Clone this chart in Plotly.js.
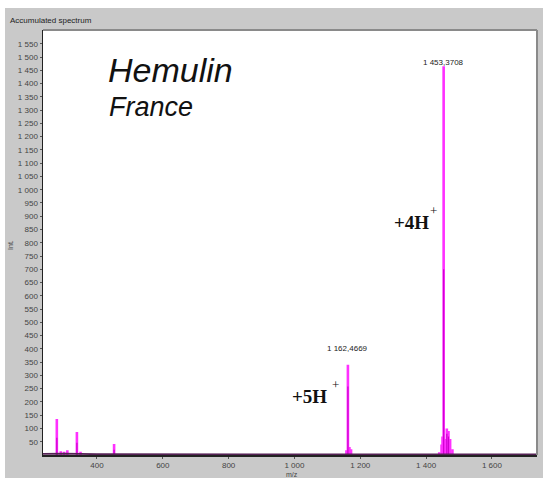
<!DOCTYPE html>
<html><head><meta charset="utf-8">
<script src="https://cdn.plot.ly/plotly-3.0.1.min.js"></script>
<style>
html,body{margin:0;padding:0;background:#ffffff;width:543px;height:478px;overflow:hidden;}
#chart{position:absolute;left:5px;top:8px;width:538px;height:470px;}
</style>
</head><body><div id="chart"></div>
<script>
// Stick peaks (m/z, intensity) – bright magenta
const peakMz  = [278, 290, 300, 310, 339, 350, 452, 1158, 1162.4669, 1167, 1172, 1440, 1447, 1450, 1453.3708, 1458, 1463, 1468, 1473, 1480];
const peakInt = [136, 14, 12, 18, 87, 12, 41, 18, 340, 30, 22, 10, 40, 70, 1465, 60, 100, 90, 60, 22];
// Darker inner part of the sticks
const darkMz  = [278, 339, 452, 1162.4669, 1453.3708, 1463, 1468];
const darkInt = [65, 46, 20, 258, 700, 80, 70];
// Baseline noise
const baseMz  = [236, 300, 400, 500, 600, 700, 800, 900, 1000, 1100, 1200, 1300, 1400, 1500, 1600, 1737];
const baseInt = [4, 5, 3, 3, 2, 2, 2, 2, 2, 3, 3, 2, 4, 3, 2, 2];
// Axis ticks
const yTickVals = [50,100,150,200,250,300,350,400,450,500,550,600,650,700,750,800,850,900,950,1000,1050,1100,1150,1200,1250,1300,1350,1400,1450,1500,1550];
const yTickText = ["50","100","150","200","250","300","350","400","450","500","550","600","650","700","750","800","850","900","950","1 000","1 050","1 100","1 150","1 200","1 250","1 300","1 350","1 400","1 450","1 500","1 550"];
const xTickVals = [400, 600, 800, 1000, 1200, 1400, 1600];
const xTickText = ["400", "600", "800", "1 000", "1 200", "1 400", "1 600"];
// Peak labels
const labelMz   = [1453.3708, 1162.4669];
const labelText = ["1 453,3708", "1 162,4669"];
const labelY    = [1478, 400];

function sticks(mz, inten) {
  const x = [], y = [];
  for (let i = 0; i < mz.length; i++) {
    x.push(mz[i], mz[i], mz[i], null);
    y.push(0, inten[i], 0, null);
  }
  return {x, y};
}
const s1 = sticks(peakMz, peakInt);
const s2 = sticks(darkMz, darkInt);

const traces = [
  {x: s1.x, y: s1.y, type: 'scatter', mode: 'lines', line: {color: '#ff30ff', width: 2.6}, connectgaps: false, hoverinfo: 'skip'},
  {x: s2.x, y: s2.y, type: 'scatter', mode: 'lines', line: {color: '#d000d0', width: 1.2}, connectgaps: false, hoverinfo: 'skip'},
  {x: baseMz, y: baseInt, type: 'scatter', mode: 'lines', line: {color: '#552255', width: 1.8}, hoverinfo: 'skip'}
];

const tickFont = {family: 'Arial, Liberation Sans, sans-serif', size: 8, color: '#444'};
const annotations = [
  {xref: 'x', yref: 'y', x: 427, y: 1451, xanchor: 'left', yanchor: 'middle', showarrow: false,
   text: '<i>Hemulin</i>', font: {family: 'Arial, Liberation Sans, sans-serif', size: 34, color: '#111'}},
  {xref: 'x', yref: 'y', x: 429, y: 1312, xanchor: 'left', yanchor: 'middle', showarrow: false,
   text: '<i>France</i>', font: {family: 'Arial, Liberation Sans, sans-serif', size: 27, color: '#111'}},
  {xref: 'x', yref: 'y', x: 1297, y: 878, xanchor: 'left', yanchor: 'middle', showarrow: false,
   text: '<b>+4H</b>', font: {family: 'Liberation Serif, Times New Roman, serif', size: 19, color: '#111'}},
  {xref: 'x', yref: 'y', x: 1424, y: 922, xanchor: 'center', yanchor: 'middle', showarrow: false,
   text: '+', font: {family: 'Liberation Serif, Times New Roman, serif', size: 13, color: '#111'}},
  {xref: 'x', yref: 'y', x: 987, y: 219, xanchor: 'left', yanchor: 'middle', showarrow: false,
   text: '<b>+5H</b>', font: {family: 'Liberation Serif, Times New Roman, serif', size: 19, color: '#111'}},
  {xref: 'x', yref: 'y', x: 1124, y: 266, xanchor: 'center', yanchor: 'middle', showarrow: false,
   text: '+', font: {family: 'Liberation Serif, Times New Roman, serif', size: 13, color: '#111'}},
  {xref: 'paper', yref: 'paper', x: -0.071, y: 1.0235, xanchor: 'left', yanchor: 'middle', showarrow: false,
   text: 'Accumulated spectrum', font: {family: 'Arial, Liberation Sans, sans-serif', size: 8, color: '#222'}},
  {xref: 'paper', yref: 'paper', x: 0.504, y: -0.045, xanchor: 'center', yanchor: 'middle', showarrow: false,
   text: 'm/z', font: {family: 'Arial, Liberation Sans, sans-serif', size: 7, color: '#444'}},
  {xref: 'paper', yref: 'paper', x: -0.067, y: 0.494, xanchor: 'center', yanchor: 'middle', showarrow: false, textangle: -90,
   text: 'Int.', font: {family: 'Arial, Liberation Sans, sans-serif', size: 7, color: '#444'}}
];
for (let i = 0; i < labelMz.length; i++) {
  annotations.push({xref: 'x', yref: 'y', x: labelMz[i], y: labelY[i], xanchor: 'center', yanchor: 'middle', showarrow: false,
    text: labelText[i], font: {family: 'Arial, Liberation Sans, sans-serif', size: 8, color: '#222'}});
}

const layout = {
  width: 538, height: 470,
  margin: {l: 38, r: 6, t: 22, b: 23, pad: 0},
  paper_bgcolor: '#c9c9c9',
  plot_bgcolor: '#ffffff',
  showlegend: false,
  xaxis: {range: [236, 1737], tickvals: xTickVals, ticktext: xTickText, tickfont: tickFont,
          showgrid: false, zeroline: false, showline: true, linecolor: '#222', linewidth: 1.5,
          ticks: 'outside', ticklen: 2, tickcolor: '#555'},
  yaxis: {range: [0, 1602], tickvals: yTickVals, ticktext: yTickText, tickfont: tickFont,
          showgrid: false, zeroline: false, showline: true, linecolor: '#222', linewidth: 1.5,
          ticks: 'outside', ticklen: 2, tickcolor: '#555'},
  shapes: [
    {type: 'line', xref: 'paper', yref: 'paper', x0: 0, x1: 1, y0: 1, y1: 1, line: {color: '#8a8a8a', width: 2}},
    {type: 'line', xref: 'paper', yref: 'paper', x0: 1, x1: 1, y0: 0, y1: 1, line: {color: '#8a8a8a', width: 2}}
  ],
  annotations: annotations
};
Plotly.newPlot('chart', traces, layout, {staticPlot: true, displayModeBar: false});
</script>
</body></html>
